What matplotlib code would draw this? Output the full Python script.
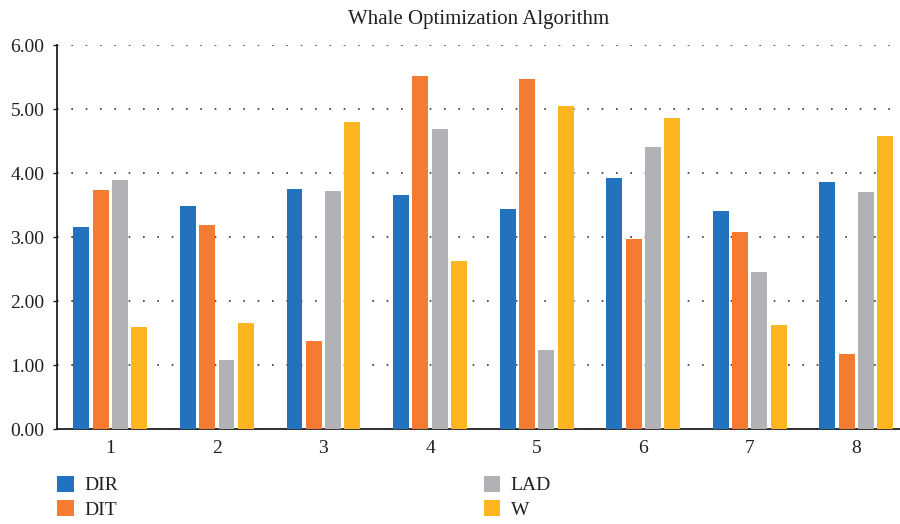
import numpy as np
import matplotlib
matplotlib.use("Agg")
import matplotlib.pyplot as plt

plt.rcParams['font.family'] = ['Liberation Serif', 'DejaVu Serif']

groups = ['1', '2', '3', '4', '5', '6', '7', '8']
dir_vals = [3.16, 3.49, 3.75, 3.66, 3.43, 3.92, 3.41, 3.86]
dit_vals = [3.74, 3.19, 1.38, 5.51, 5.47, 2.97, 3.08, 1.17]
lad_vals = [3.89, 1.08, 3.72, 4.69, 1.24, 4.41, 2.45, 3.70]
w_vals = [1.60, 1.66, 4.80, 2.62, 5.05, 4.86, 1.63, 4.58]

series = [('DIR', dir_vals, '#2372be'),
          ('DIT', dit_vals, '#f47b30'),
          ('LAD', lad_vals, '#b1b2b5'),
          ('W', w_vals, '#fdb61f')]

txt = '#231f20'
fig = plt.figure(figsize=(9, 5.24), dpi=100)
ax = fig.add_axes([57/900, 1-429/524, 1-57/900, (429-45)/524])

x = np.arange(1, len(groups) + 1)
pitch = 0.181
width = 0.15
for i, (name, vals, col) in enumerate(series):
    ax.bar(x + (i - 1.5) * pitch, vals, width, color=col, label=name, zorder=3)

ax.set_xlim(0.5, 8.41)
ax.set_ylim(0, 6)
ax.set_yticks(np.arange(0, 7, 1))
ax.set_yticklabels(['%.2f' % v for v in np.arange(0, 7, 1)])
ax.set_xticks(x)
ax.set_xticklabels(groups)
ax.yaxis.grid(True, color='#333333', linestyle=(0, (1, 7.6)), linewidth=1.2, zorder=0)
for sp in ['top', 'right']:
    ax.spines[sp].set_visible(False)
for sp in ['left', 'bottom']:
    ax.spines[sp].set_color(txt)
    ax.spines[sp].set_linewidth(1.3)
ax.tick_params(axis='y', length=3, width=1, colors=txt, labelsize=14, pad=6)
ax.tick_params(axis='x', length=0, colors=txt, labelsize=14, pad=8)

ax.set_title('Whale Optimization Algorithm', fontsize=15, color=txt, pad=15)

fig.legend(loc='upper left', bbox_to_anchor=(57/900, 1-476/524), ncol=2,
           frameon=False, fontsize=14, borderpad=0, borderaxespad=0,
           handlelength=0.85, handleheight=0.85, handletextpad=0.55,
           labelspacing=0.3, columnspacing=18.8, labelcolor=txt)

fig.savefig('out.png', dpi=100)
